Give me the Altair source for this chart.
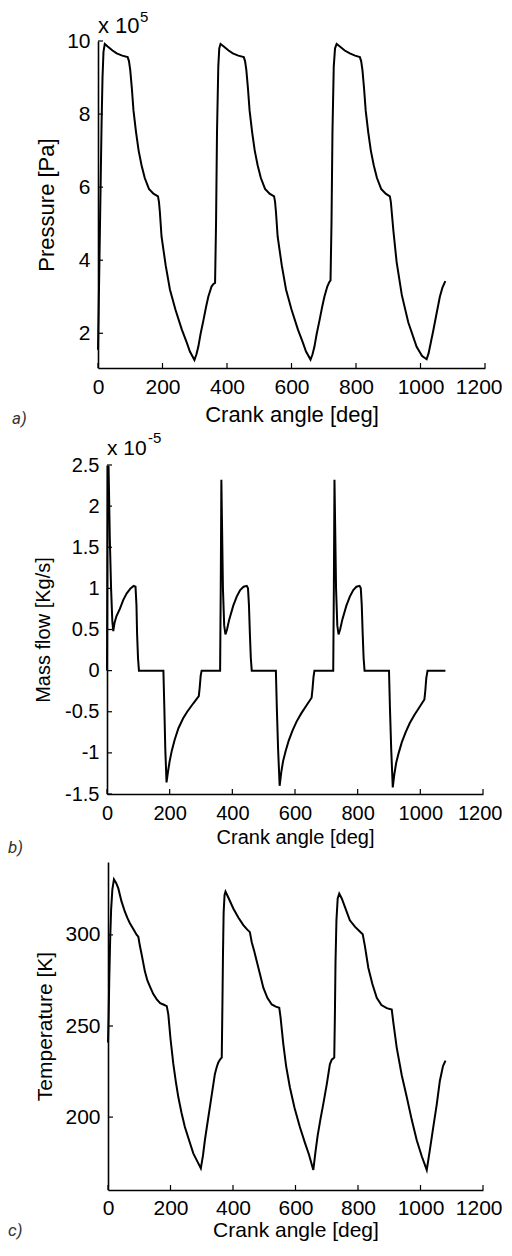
import altair as alt
import pandas as pd

# ---------------- data ----------------
X_TICKS = [0, 200, 400, 600, 800, 1000, 1200]

# a) Pressure, in units of 1e5 Pa
ANGLE_P = [0, 2, 5, 8, 11, 14, 17, 21, 30, 45, 58, 75, 92, 96, 100, 105, 110, 118, 126, 135,
           145, 158, 172, 186, 189, 192, 197, 210, 223, 240, 260, 275, 285, 299, 305, 311,
           318, 327, 335, 342, 352, 358, 363,
           366, 369, 373, 376, 380, 390, 405, 418, 435, 452, 456, 460, 465, 470, 478, 486,
           495, 505, 518, 532, 546, 549, 552, 557, 570, 583, 600, 620, 635, 645, 659, 665,
           671, 678, 687, 695, 702, 711, 717, 721,
           724, 727, 731, 735, 740, 750, 765, 781, 797, 812, 816, 820, 825, 830, 838, 846,
           855, 865, 878, 892, 905, 908, 911, 916, 926, 942, 962, 988, 1005, 1019, 1025,
           1032, 1040, 1050, 1060, 1068, 1077]
PRESSURE = [1.55, 2.6, 4.3, 6.0, 7.7, 9.0, 9.7, 9.92, 9.85, 9.74, 9.66, 9.6, 9.56, 9.45, 9.2,
            8.7, 8.1, 7.5, 7.0, 6.6, 6.25, 5.95, 5.82, 5.75, 5.6, 5.3, 4.65, 3.85, 3.2, 2.65,
            2.1, 1.75, 1.5, 1.27, 1.42, 1.63, 1.98, 2.36, 2.72, 3.0, 3.28, 3.35, 3.38,
            5.0, 7.5, 9.3, 9.8, 9.92, 9.85, 9.74, 9.66, 9.6, 9.56, 9.45, 9.2, 8.7, 8.1, 7.5,
            7.0, 6.6, 6.25, 5.95, 5.82, 5.75, 5.6, 5.3, 4.65, 3.85, 3.2, 2.65, 2.1, 1.75, 1.5,
            1.28, 1.42, 1.63, 1.98, 2.36, 2.72, 3.0, 3.28, 3.4, 3.45,
            5.0, 7.5, 9.3, 9.8, 9.92, 9.85, 9.74, 9.66, 9.6, 9.56, 9.45, 9.2, 8.7, 8.1, 7.5,
            7.0, 6.6, 6.25, 5.95, 5.82, 5.75, 5.6, 5.3, 4.8, 3.95, 3.05, 2.3, 1.63, 1.38,
            1.29, 1.45, 1.75, 2.09, 2.55, 3.0, 3.25, 3.43]
P_TICKS = [2, 4, 6, 8, 10]

# b) Mass flow, in units of 1e-5 kg/s
ANGLE_M = [0, 2, 5, 9, 13, 17, 20, 24, 30, 41, 52, 63, 75, 85, 91, 94, 96, 99, 102, 180, 183,
           186, 190, 195, 200, 207, 216, 228, 243, 256, 275, 293, 296, 299, 302,
           361, 363, 365, 367, 370, 374, 378, 383, 390, 403, 414, 425, 436, 446, 450, 453,
           456, 459, 462, 539, 542, 546, 551, 556, 562, 570, 580, 592, 605, 620, 637, 653,
           656, 659, 662,
           722, 724, 726, 728, 731, 735, 739, 744, 751, 764, 775, 786, 796, 806, 810, 813,
           816, 819, 822, 900, 903, 907, 912, 917, 923, 931, 941, 953, 966, 981, 998, 1013,
           1016, 1019, 1023, 1080]
MASS_FLOW = [0.0, 2.48, 2.48, 1.6, 1.0, 0.6, 0.48, 0.58, 0.66, 0.75, 0.86, 0.94, 1.0, 1.03,
             1.02, 0.8, 0.45, 0.15, 0.0, 0.0, -0.45, -0.95, -1.36, -1.22, -1.1, -0.97, -0.84,
             -0.7, -0.58, -0.5, -0.4, -0.31, -0.2, -0.06, 0.0,
             0.0, 1.0, 2.32, 1.8, 1.0, 0.55, 0.44, 0.5, 0.62, 0.79, 0.9, 0.98, 1.02, 1.03,
             1.0, 0.8, 0.45, 0.15, 0.0, 0.0, -0.45, -0.95, -1.40, -1.24, -1.1, -0.98, -0.85,
             -0.73, -0.62, -0.52, -0.42, -0.33, -0.22, -0.08, 0.0,
             0.0, 1.0, 2.32, 1.8, 1.0, 0.55, 0.44, 0.5, 0.62, 0.79, 0.9, 0.98, 1.02, 1.03,
             1.0, 0.8, 0.45, 0.15, 0.0, 0.0, -0.45, -0.95, -1.42, -1.26, -1.12, -1.0, -0.87,
             -0.75, -0.64, -0.54, -0.44, -0.35, -0.24, -0.09, 0.0, 0.0]
M_TICKS = [-1.5, -1, -0.5, 0, 0.5, 1, 1.5, 2, 2.5]

# c) Temperature, K
ANGLE_T = [0, 2, 4, 7, 10, 14, 19, 26, 33, 43, 54, 62, 70, 80, 92, 97, 102, 108, 118, 126,
           134, 145, 156, 167, 177, 188, 193, 200, 209, 217, 225, 235, 246, 260, 273, 285,
           297, 304, 310, 318, 326, 334, 342, 348, 353, 358, 364, 366, 368, 370, 373, 376,
           385, 401, 417, 433, 445, 454, 460, 468, 476, 487, 497, 510, 524, 537, 548, 552,
           561, 570, 582, 597, 614, 630, 643, 657, 664, 671, 680, 689, 700, 710, 716, 724,
           726, 728, 731, 735, 740,
           748, 761, 774, 790, 805, 815, 822, 833, 846, 860, 875, 892, 908, 913, 924, 940,
           956, 972, 988, 1004, 1020, 1030, 1041, 1052, 1062, 1072, 1080]
TEMPERATURE = [241, 255, 275, 298, 314, 325, 330.5, 328.5, 325.5, 318.5, 312.7, 309.3, 306.4,
               303.5, 300, 299, 294, 289, 280, 275, 271.8, 267.5, 264.6, 262.5, 261.8, 260.9,
               256.4, 243, 229.2, 219.5, 211, 202.5, 194.6, 187, 180.1, 176, 171.9, 179,
               187.3, 196.5, 205.5, 214.5, 223.6, 227.5, 230, 231.5, 232.7, 260, 290, 312,
               322, 323.8,
               320.5, 314.5, 309.5, 305.4, 303, 301.5, 296, 291, 285.5, 278, 271, 265.5,
               261.8, 260.6, 260, 255, 240, 228, 216.4, 205, 194.6, 186, 179.5, 171, 181, 190,
               199, 207.3, 218, 229, 231.5, 232.7, 255, 285, 308, 320, 322.7,
               320, 314, 308, 304.5, 302, 300.4, 294, 282, 273, 265.5, 261.5, 259.8, 259, 252,
               238, 223, 211, 198.5, 187.3, 178.5, 171, 182, 194.6, 207, 220, 228, 231]
T_TICKS = [200, 250, 300]

FONT = "Liberation Sans"
ONE = pd.DataFrame({"k": [0]})
LEFT = 90  # common left extent of every panel's frame
RIGHT_EDGE = 405  # right extent of every frame, measured from the common plot origin


def panel(angles, values, field, ytitle, ydomain, yticks, W, H, x0, top, bottom,
          tick_fs, title_fs, xlab_pad, xtitle_y, ytitle_x, letter, letter_xy,
          exp_text=None, exp_xy=None, sup_text=None, sup_xy=None, exp_fs=21):
    # x0: offset of the plotting area inside the panel (pixels)
    df = pd.DataFrame({"angle": angles, field: values})
    xscale = alt.Scale(domain=[0, 1200], nice=False, zero=False, range=[x0, W])
    yscale = alt.Scale(domain=ydomain, nice=False, zero=False)
    last_shift = RIGHT_EDGE - W - 1
    xaxis = alt.Axis(values=X_TICKS, title="Crank angle [deg]", labelExpr="'' + datum.value",
                     labelFontSize=tick_fs, titleFontSize=title_fs, labelFlush=False,
                     labelAlign={"expr": "datum.value == 1200 ? 'right' : 'center'"},
                     labelOffset={"expr": f"datum.value == 1200 ? {last_shift} : 0"},
                     labelPadding=xlab_pad, labelBaseline="alphabetic",
                     titleX=x0 + (W - x0) / 2, titleY=xtitle_y, titleBaseline="alphabetic",
                     titleAlign="center")
    yaxis = alt.Axis(values=yticks, title=ytitle, labelExpr="'' + datum.value",
                     labelFontSize=tick_fs, titleFontSize=title_fs, labelFlush=False,
                     labelPadding=8, offset=-x0,
                     titleX=ytitle_x, titleY=H / 2, titleAngle=270,
                     titleBaseline="alphabetic", titleAlign="center")

    frame = alt.Chart(ONE).mark_rect(opacity=0).encode(
        x=alt.value(-LEFT), x2=alt.value(RIGHT_EDGE - 1),
        y=alt.value(-top), y2=alt.value(H + bottom))

    line = alt.Chart(df).mark_line(color="black", strokeWidth=2).encode(
        x=alt.X("angle:Q", scale=xscale, axis=xaxis),
        y=alt.Y(f"{field}:Q", scale=yscale, axis=yaxis),
        order=alt.Order("angle:Q"))

    xt = alt.Chart(pd.DataFrame({"angle": X_TICKS})).mark_rule(color="black", strokeWidth=1.2).encode(
        x=alt.X("angle:Q", scale=xscale, axis=xaxis), y=alt.value(H), y2=alt.value(H - 5))
    yt = alt.Chart(pd.DataFrame({field: yticks})).mark_rule(color="black", strokeWidth=1.2).encode(
        y=alt.Y(f"{field}:Q", scale=yscale, axis=yaxis), x=alt.value(x0), x2=alt.value(x0 + 5))

    layers = [frame, line, xt, yt]

    lab = alt.Chart(ONE).mark_text(text=letter, font="Roboto", fontStyle="italic", fontSize=17,
                                   color="#333333", align="left", baseline="alphabetic").encode(
        x=alt.value(letter_xy[0]), y=alt.value(letter_xy[1]))
    layers.append(lab)

    if exp_text:
        layers.append(alt.Chart(ONE).mark_text(text=exp_text, font=FONT, fontSize=exp_fs,
                                               color="black", align="left", baseline="alphabetic").encode(
            x=alt.value(x0 + exp_xy[0]), y=alt.value(exp_xy[1])))
        layers.append(alt.Chart(ONE).mark_text(text=sup_text, font=FONT, fontSize=15,
                                               color="black", align="left", baseline="alphabetic").encode(
            x=alt.value(x0 + sup_xy[0]), y=alt.value(sup_xy[1])))

    return alt.layer(*layers).properties(width=W, height=H)


pa = panel(ANGLE_P, PRESSURE, "pressure", "Pressure [Pa]", [1.05, 10], P_TICKS,
           W=387, H=327, x0=0, top=33, bottom=60,
           tick_fs=21, title_fs=22, xlab_pad=25, xtitle_y=53, ytitle_x=-45,
           letter="a)", letter_xy=(-86, 383),
           exp_text="x 10", exp_xy=(0, -8), sup_text="5", sup_xy=(42, -19), exp_fs=22)

pb = panel(ANGLE_M, MASS_FLOW, "massflow", "Mass flow [Kg/s]", [-1.5, 2.5], M_TICKS,
           W=385, H=329, x0=9, top=37, bottom=64,
           tick_fs=20, title_fs=20, xlab_pad=25, xtitle_y=49, ytitle_x=-58,
           letter="b)", letter_xy=(-90, 388),
           exp_text="x 10", exp_xy=(0, -10), sup_text="-5", sup_xy=(41, -22), exp_fs=21)

pc = panel(ANGLE_T, TEMPERATURE, "temperature", "Temperature [K]", [160, 340], T_TICKS,
           W=385, H=328, x0=10, top=4, bottom=52,
           tick_fs=21, title_fs=21, xlab_pad=24, xtitle_y=46, ytitle_x=-57,
           letter="c)", letter_xy=(-90, 328 + 46))

chart = alt.concat(pa, pb, pc, columns=1, spacing=0, bounds="full").properties(
    padding=0, background="white"
).configure_view(stroke=None).configure_axis(
    grid=False, ticks=False, domainColor="black", domainWidth=1.6,
    labelFont=FONT, titleFont=FONT, labelColor="black", titleColor="black",
    titleFontWeight="normal", labelOverlap=False
)

chart.save("out.html", embed_options={"renderer": "svg", "actions": False})
